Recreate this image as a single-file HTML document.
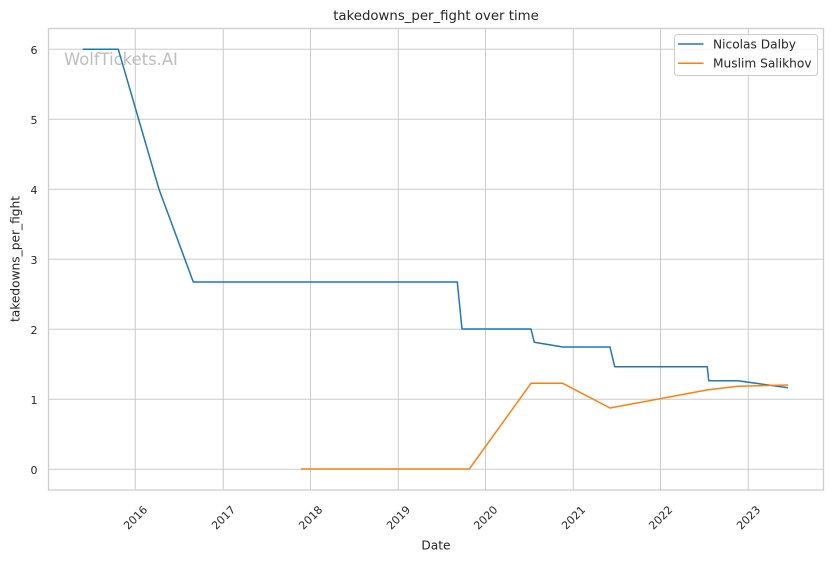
<!DOCTYPE html>
<html>
<head>
<meta charset="utf-8">
<style>
  html, body { margin: 0; padding: 0; background: #ffffff; }
  svg { display: block; }
  text { font-family: "DejaVu Sans", "Liberation Sans", sans-serif; fill: #262626; }
</style>
</head>
<body>
<svg width="832" height="561" viewBox="0 0 832 561" xmlns="http://www.w3.org/2000/svg">
  <rect x="0" y="0" width="832" height="561" fill="#ffffff"/>

  <!-- grid -->
  <g stroke="#cccccc" stroke-width="1" fill="none">
    <line x1="48" y1="469.3" x2="824" y2="469.3"/>
    <line x1="48" y1="399.3" x2="824" y2="399.3"/>
    <line x1="48" y1="329.3" x2="824" y2="329.3"/>
    <line x1="48" y1="259.3" x2="824" y2="259.3"/>
    <line x1="48" y1="189.3" x2="824" y2="189.3"/>
    <line x1="48" y1="119.3" x2="824" y2="119.3"/>
    <line x1="48" y1="49.3" x2="824" y2="49.3"/>

    <line x1="135.3" y1="28" x2="135.3" y2="490"/>
    <line x1="223.3" y1="28" x2="223.3" y2="490"/>
    <line x1="310.5" y1="28" x2="310.5" y2="490"/>
    <line x1="398.3" y1="28" x2="398.3" y2="490"/>
    <line x1="485.5" y1="28" x2="485.5" y2="490"/>
    <line x1="573.3" y1="28" x2="573.3" y2="490"/>
    <line x1="660.5" y1="28" x2="660.5" y2="490"/>
    <line x1="748.3" y1="28" x2="748.3" y2="490"/>
  </g>

  <!-- spines -->
  <rect x="48.5" y="28.5" width="775" height="461.5" fill="none" stroke="#cccccc" stroke-width="1.25"/>

  <!-- watermark -->
  <text x="64" y="65" font-size="16.4" style="fill:#bdbdbd">WolfTickets.AI</text>

  <!-- series -->
  <polyline fill="none" stroke="#1f77b4" stroke-width="1.5" stroke-linejoin="round"
    points="82.7,49.3 118.3,49.3 159,189.3 193.3,282 457.3,282 462,329 531,329 534.3,342.3 562.7,347 610,347 614.7,366.7 707.3,366.7 708.7,380.7 737.7,380.7 788,387.7"/>
  <polyline fill="none" stroke="#ff7f0e" stroke-width="1.5" stroke-linejoin="round"
    points="301,469 469.3,469 531,383.3 562.7,383.3 610,408 706.7,390 737.7,386.3 788,385"/>

  <!-- y tick labels -->
  <g font-size="11" text-anchor="end">
    <text x="37.5" y="473.8">0</text>
    <text x="37.5" y="403.8">1</text>
    <text x="37.5" y="333.8">2</text>
    <text x="37.5" y="263.8">3</text>
    <text x="37.5" y="193.8">4</text>
    <text x="37.5" y="123.8">5</text>
    <text x="37.5" y="53.8">6</text>
  </g>

  <!-- x tick labels -->
  <g font-size="11" text-anchor="middle">
    <text transform="translate(135.3,517.5) rotate(-45)" y="4">2016</text>
    <text transform="translate(223.3,517.5) rotate(-45)" y="4">2017</text>
    <text transform="translate(310.5,517.5) rotate(-45)" y="4">2018</text>
    <text transform="translate(398.3,517.5) rotate(-45)" y="4">2019</text>
    <text transform="translate(485.5,517.5) rotate(-45)" y="4">2020</text>
    <text transform="translate(573.3,517.5) rotate(-45)" y="4">2021</text>
    <text transform="translate(660.5,517.5) rotate(-45)" y="4">2022</text>
    <text transform="translate(748.3,517.5) rotate(-45)" y="4">2023</text>
  </g>

  <!-- axis labels and title -->
  <text x="436" y="549.3" font-size="12.2" text-anchor="middle">Date</text>
  <text transform="translate(19.3,259) rotate(-90)" font-size="12.2" text-anchor="middle">takedowns_per_fight</text>
  <text x="436" y="20" font-size="13.3" text-anchor="middle">takedowns_per_fight over time</text>

  <!-- legend -->
  <rect x="674.5" y="34.5" width="143" height="41" rx="3" ry="3" fill="#ffffff" fill-opacity="0.8" stroke="#cccccc" stroke-width="1"/>
  <line x1="678" y1="44" x2="703.5" y2="44" stroke="#1f77b4" stroke-width="1.5"/>
  <line x1="678" y1="63.3" x2="703.5" y2="63.3" stroke="#ff7f0e" stroke-width="1.5"/>
  <text x="713" y="48.4" font-size="12.2">Nicolas Dalby</text>
  <text x="713" y="67.7" font-size="12.2">Muslim Salikhov</text>
</svg>
</body>
</html>
